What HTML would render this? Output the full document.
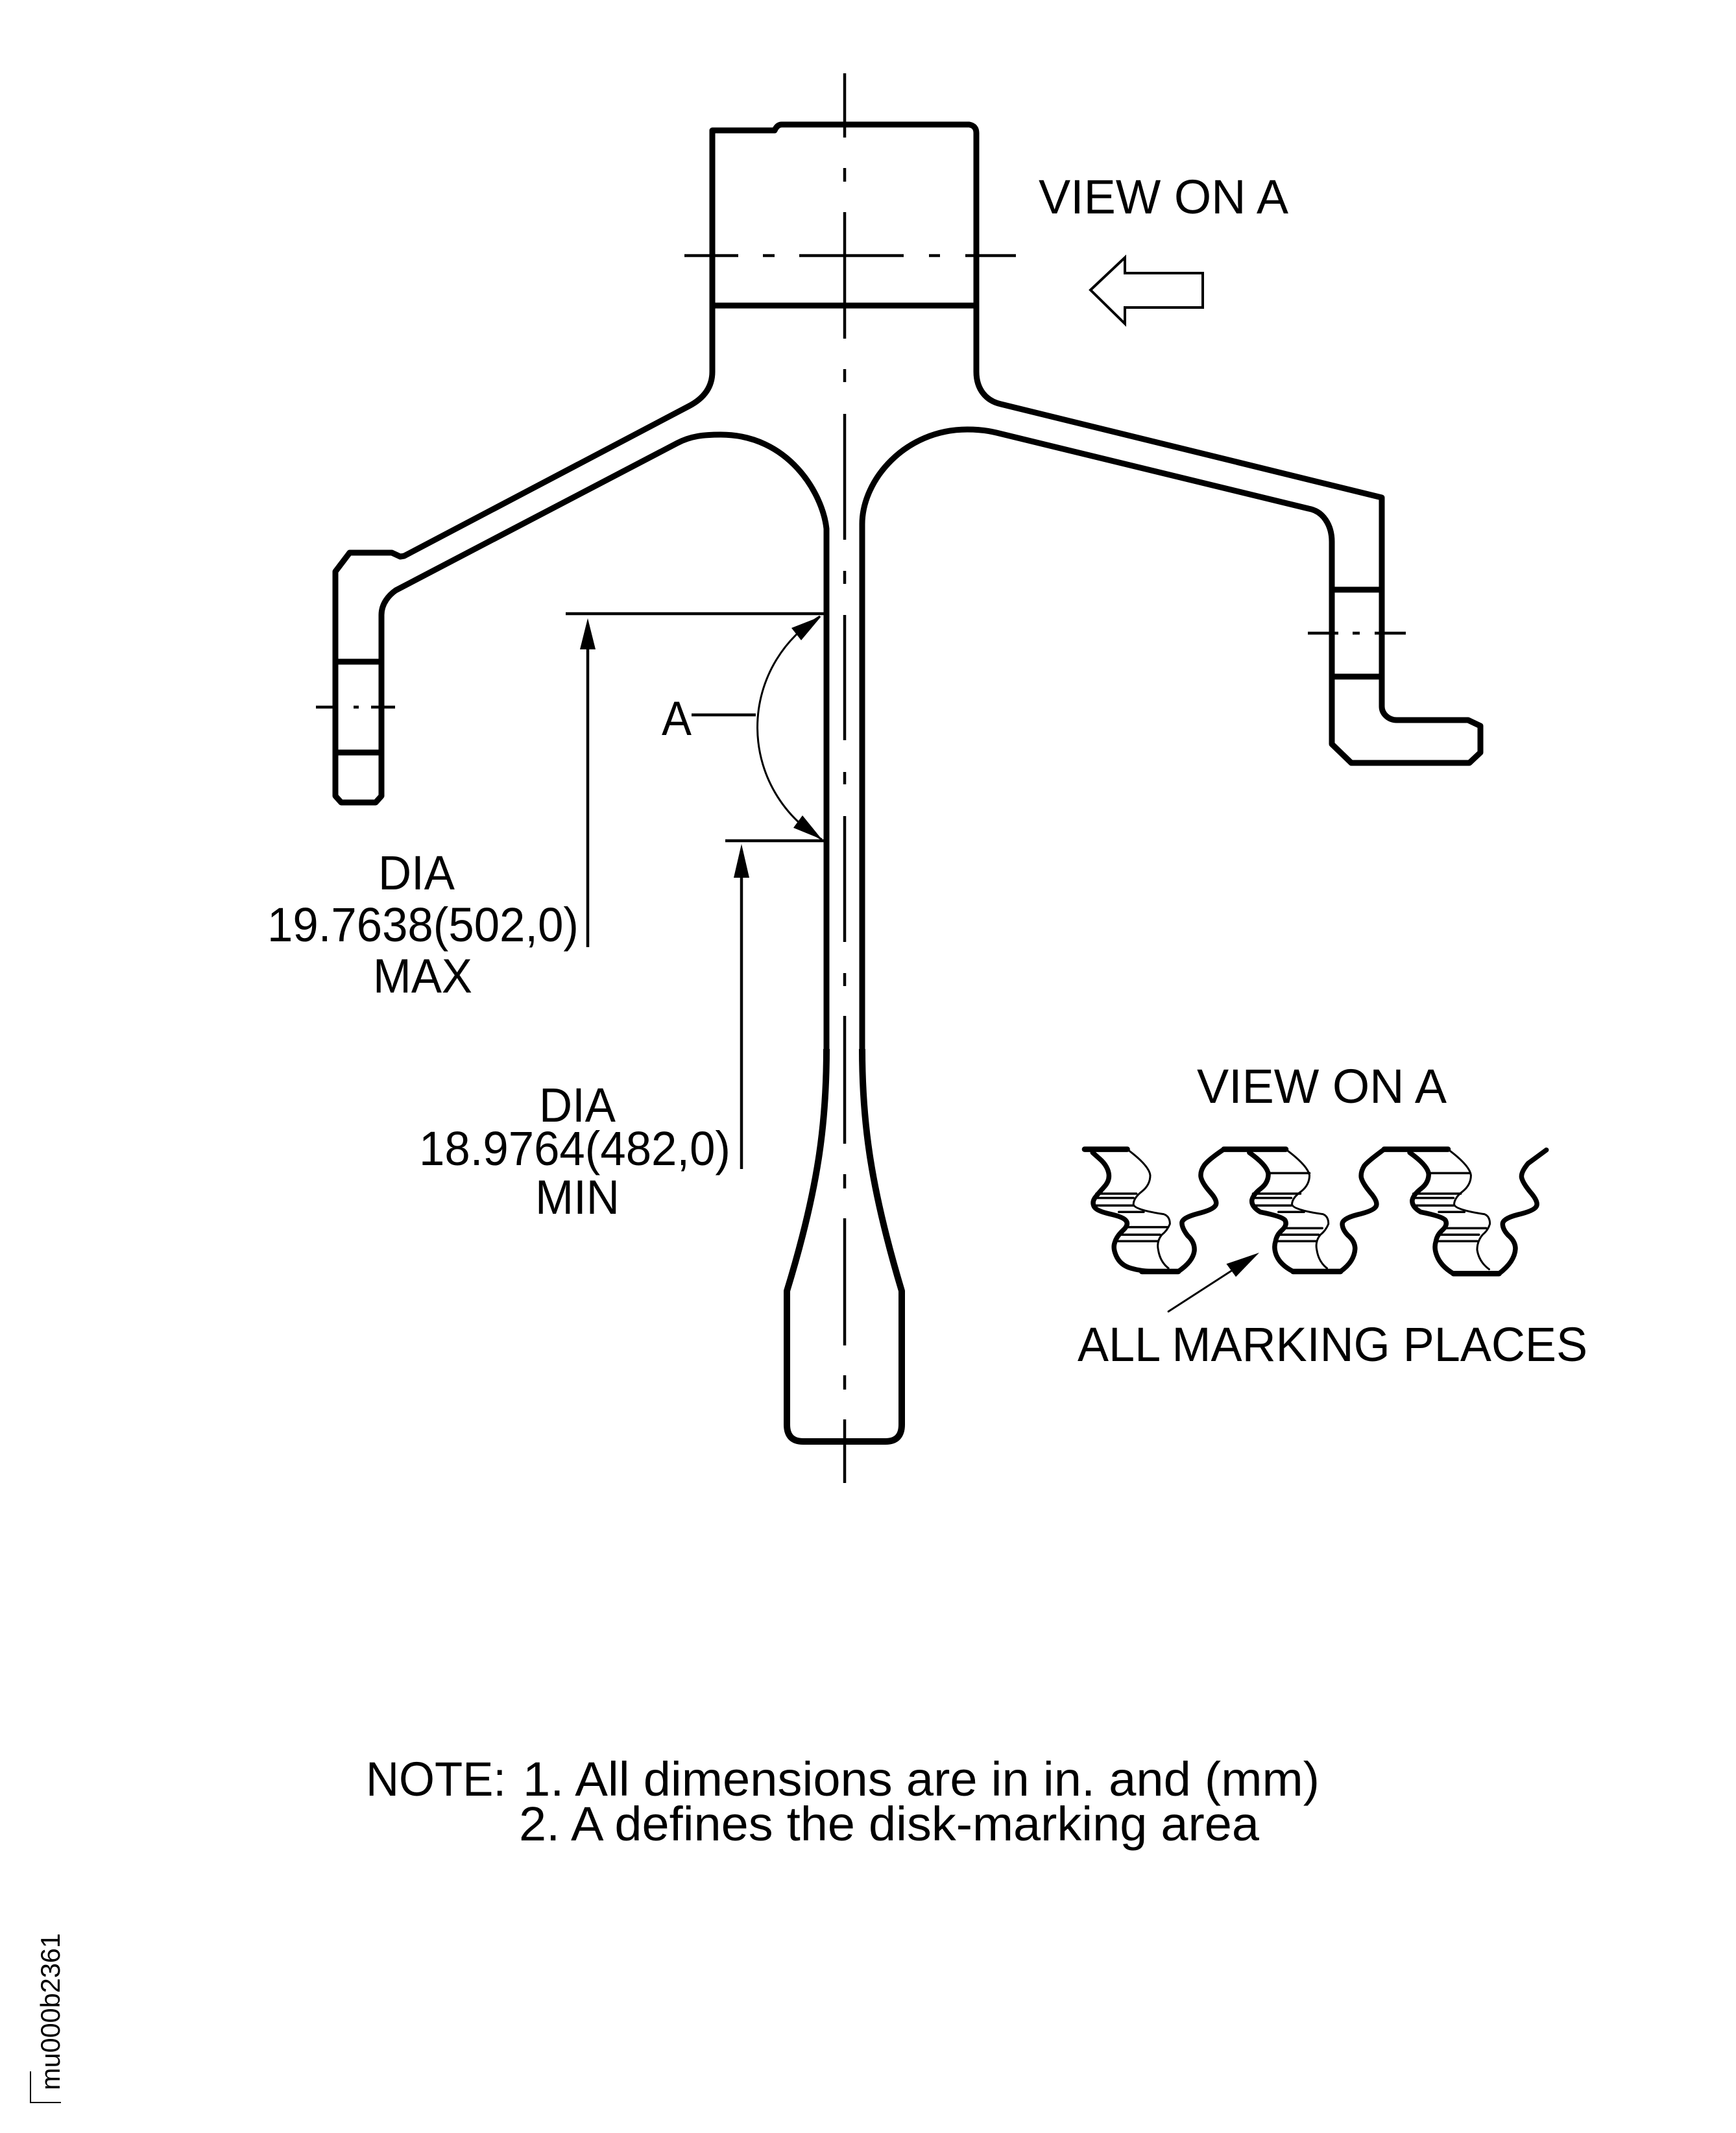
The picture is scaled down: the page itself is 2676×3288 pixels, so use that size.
<!DOCTYPE html>
<html>
<head>
<meta charset="utf-8">
<style>
html,body{margin:0;padding:0;background:#fff}
svg{display:block}
text{font-family:"Liberation Sans",sans-serif;font-size:74px;fill:#000}
</style>
</head>
<body>
<svg xmlns="http://www.w3.org/2000/svg" width="2676" height="3288" viewBox="0 0 2676 3288">
<rect width="2676" height="3288" fill="#fff"/>

<!-- main outline -->
<g fill="none" stroke="#000" stroke-width="9" stroke-linejoin="round">
<path d="M1274,1617 L1274,815 C1268,760 1215,670 1111,670 C1085,670 1065,672 1044,683 L610,910 C600,917 588,930 588,948 L588,1227 L579,1237 L526,1237 L517,1227 L517,881 L539,852 L604,852 L617,858 L623,857 L1062,626 C1085,614 1098,597 1098,573 L1098,201 L1194,201 Q1198,192 1205,192 L1494,192 Q1505,194 1505,205 L1505,573 C1505,600 1520,618 1543,623 L2130,767 L2130,1089 C2130,1100 2140,1110 2153,1110 L2263,1110 L2282,1119 L2282,1160 L2265,1176 L2083,1176 L2053,1147 L2053,835 C2053,810 2040,788 2017,784 L1536,667 C1520,663 1505,662 1491,662 C1395,662 1329,740 1329,808 L1329,1617"/>
<path d="M1274,1617 C1274,1730 1262,1830 1213,1990 L1213,2196 Q1213,2222 1238,2222 L1365,2222 Q1390,2222 1390,2196 L1390,1990 C1342,1830 1329,1730 1329,1617" stroke-width="10"/>
<path d="M1098,471 H1505 M517,1020 H588 M517,1160 H588 M2053,909 H2130 M2053,1043 H2130"/>
</g>

<!-- centre lines -->
<g fill="none" stroke="#000" stroke-width="4.5">
<path d="M1302,113 V212 M1302,259 V280 M1302,327 V522 M1302,569 V589 M1302,638 V832 M1302,880 V900 M1302,948 V1141 M1302,1190 V1209 M1302,1258 V1452 M1302,1500 V1520 M1302,1566 V1763 M1302,1810 V1832 M1302,1878 V2074 M1302,2120 V2142 M1302,2188 V2286"/>
<path d="M1055,394 H1138 M1176,394 H1194 M1232,394 H1393 M1432,394 H1449 M1488,394 H1566"/>
<path d="M487,1090 H521 M545,1090 H553 M572,1090 H609"/>
<path d="M2016,976 H2063 M2085,976 H2096 M2119,976 H2167"/>
</g>

<!-- view arrow -->
<path d="M1681,447 L1734,397 V421 H1854 V474 H1734 V499 Z" fill="#fff" stroke="#000" stroke-width="4"/>

<!-- dimension lines -->
<g fill="none" stroke="#000" stroke-width="4.5">
<path d="M872,946 H1270 M906,990 V1460"/>
<path d="M1118,1296 H1270 M1143,1340 V1802"/>
<path d="M1066,1102 H1165"/>
<path d="M1264,950 A200,200 0 0 0 1267,1294" stroke-width="3"/>
</g>
<g fill="#000">
<polygon points="906,953 894,1001 918,1001"/>
<polygon points="1143,1301 1131,1353 1155,1353"/>
<polygon points="1266,950 1220,968 1235,987"/>
<polygon points="1267,1294 1237,1257 1223,1276"/>
</g>

<!-- marking view -->
<g transform="translate(1600,1620) scale(0.5618,0.3333)" fill="none" stroke="#000" stroke-linejoin="round" stroke-linecap="round">
<path vector-effect="non-scaling-stroke" stroke-width="7.5" d="M150,470 L170,500 Q190,530 194,565 Q198,600 181,630 Q165,660 156,680 Q148,700 154,720 Q160,740 197,754 Q235,768 242,786 Q250,805 232,832 Q215,860 211,885 Q205,910 214,945 Q225,990 255,1005 Q285,1020 320,1020 L385,1020 Q425,975 429,925 Q431,885 411,855 Q395,820 395,796 Q395,772 437,753 Q480,735 487,715 Q495,695 472,652 Q450,610 447,582 Q445,555 457,527 Q470,500 510,455 L680,455"/>
<path vector-effect="non-scaling-stroke" stroke-width="7.5" d="M580,470 Q630,530 632,570 Q632,610 611,637 Q590,665 587,690 Q585,720 610,745 Q670,765 678,783 Q685,805 670,828 Q655,850 652,880 Q646,910 654,945 Q665,990 700,1020 L830,1020 Q868,975 870,915 Q870,880 850,852 Q835,825 835,800 Q835,775 877,757 Q920,740 927,720 Q935,700 912,655 Q890,610 887,585 Q885,560 895,532 Q905,510 950,455 L1125,455"/>
<path vector-effect="non-scaling-stroke" stroke-width="7.5" d="M1020,470 Q1070,530 1072,570 Q1072,610 1051,637 Q1030,665 1027,690 Q1025,720 1050,745 Q1110,765 1118,783 Q1125,805 1110,828 Q1095,850 1092,880 Q1086,910 1094,945 Q1105,995 1140,1030 L1265,1030 Q1308,975 1310,915 Q1310,880 1290,852 Q1275,825 1275,800 Q1275,775 1317,757 Q1360,740 1367,720 Q1375,700 1352,655 Q1330,610 1327,585 Q1325,560 1345,520 L1395,458"/>
<path vector-effect="non-scaling-stroke" stroke-width="8.5" d="M128,455 H245 M510,455 H680 M950,455 H1125 M285,1020 H385 M700,1020 H830 M1140,1030 H1265"/>
<path vector-effect="non-scaling-stroke" stroke-width="3" d="M245,455 Q305,530 308,575 Q308,620 285,650 Q262,680 262,710 Q265,735 345,755 Q362,765 362,800 Q355,830 340,850 Q325,880 330,920 Q335,975 358,1005"/>
<path vector-effect="non-scaling-stroke" stroke-width="3" d="M680,455 Q740,530 745,575 Q745,620 722,650 Q697,680 697,710 Q700,735 782,755 Q797,765 797,800 Q790,830 775,850 Q760,880 765,920 Q770,975 793,1005"/>
<path vector-effect="non-scaling-stroke" stroke-width="3" d="M1125,455 Q1185,530 1188,575 Q1188,620 1165,650 Q1142,680 1142,710 Q1145,735 1225,755 Q1240,765 1240,800 Q1235,830 1220,850 Q1205,880 1205,920 Q1210,975 1238,1010"/>
<path vector-effect="non-scaling-stroke" stroke-width="3.5" d="M160,660 H270 M155,680 H262 M155,715 H262 M222,745 H290 M245,815 H355 M220,850 H335 M220,880 H330"/>
<path vector-effect="non-scaling-stroke" stroke-width="3.5" d="M635,565 H745 M590,660 H720 M590,680 H695 M590,715 H695 M660,745 H730 M680,820 H780 M660,850 H770 M655,880 H765"/>
<path vector-effect="non-scaling-stroke" stroke-width="3.5" d="M1075,565 H1185 M1030,660 H1160 M1030,680 H1140 M1030,715 H1140 M1100,745 H1170 M1120,820 H1230 M1100,850 H1210 M1095,880 H1205"/>
<path vector-effect="non-scaling-stroke" stroke-width="3" d="M358,1205 L560,985"/>
<polygon points="607,933 517,985 543,1045" fill="#000" stroke="none"/>
</g>

<!-- labels -->
<text x="1601" y="329" textLength="385" lengthAdjust="spacingAndGlyphs">VIEW ON A</text>
<text x="1020" y="1133" textLength="46" lengthAdjust="spacingAndGlyphs">A</text>
<text x="583" y="1371" textLength="118" lengthAdjust="spacingAndGlyphs">DIA</text>
<text x="412" y="1451" textLength="480" lengthAdjust="spacingAndGlyphs">19.7638(502,0)</text>
<text x="575" y="1530" textLength="153" lengthAdjust="spacingAndGlyphs">MAX</text>
<text x="831" y="1729" textLength="118" lengthAdjust="spacingAndGlyphs">DIA</text>
<text x="646" y="1796" textLength="480" lengthAdjust="spacingAndGlyphs">18.9764(482,0)</text>
<text x="825" y="1871" textLength="130" lengthAdjust="spacingAndGlyphs">MIN</text>
<text x="1845" y="1700" textLength="385" lengthAdjust="spacingAndGlyphs">VIEW ON A</text>
<text x="1661" y="2098" textLength="786" lengthAdjust="spacingAndGlyphs">ALL MARKING PLACES</text>
<text x="564" y="2768" textLength="216" lengthAdjust="spacingAndGlyphs">NOTE:</text>
<text x="806" y="2768" textLength="1228" lengthAdjust="spacingAndGlyphs">1. All dimensions are in in. and (mm)</text>
<text x="800" y="2837" textLength="1141" lengthAdjust="spacingAndGlyphs">2. A defines the disk-marking area</text>

<!-- reference id -->
<text transform="translate(92,3222) rotate(-90)" style="font-size:42px" textLength="242" lengthAdjust="spacingAndGlyphs">mu000b2361</text>
<path d="M47,3193 V3241 H94" fill="none" stroke="#000" stroke-width="2"/>
</svg>
</body>
</html>
